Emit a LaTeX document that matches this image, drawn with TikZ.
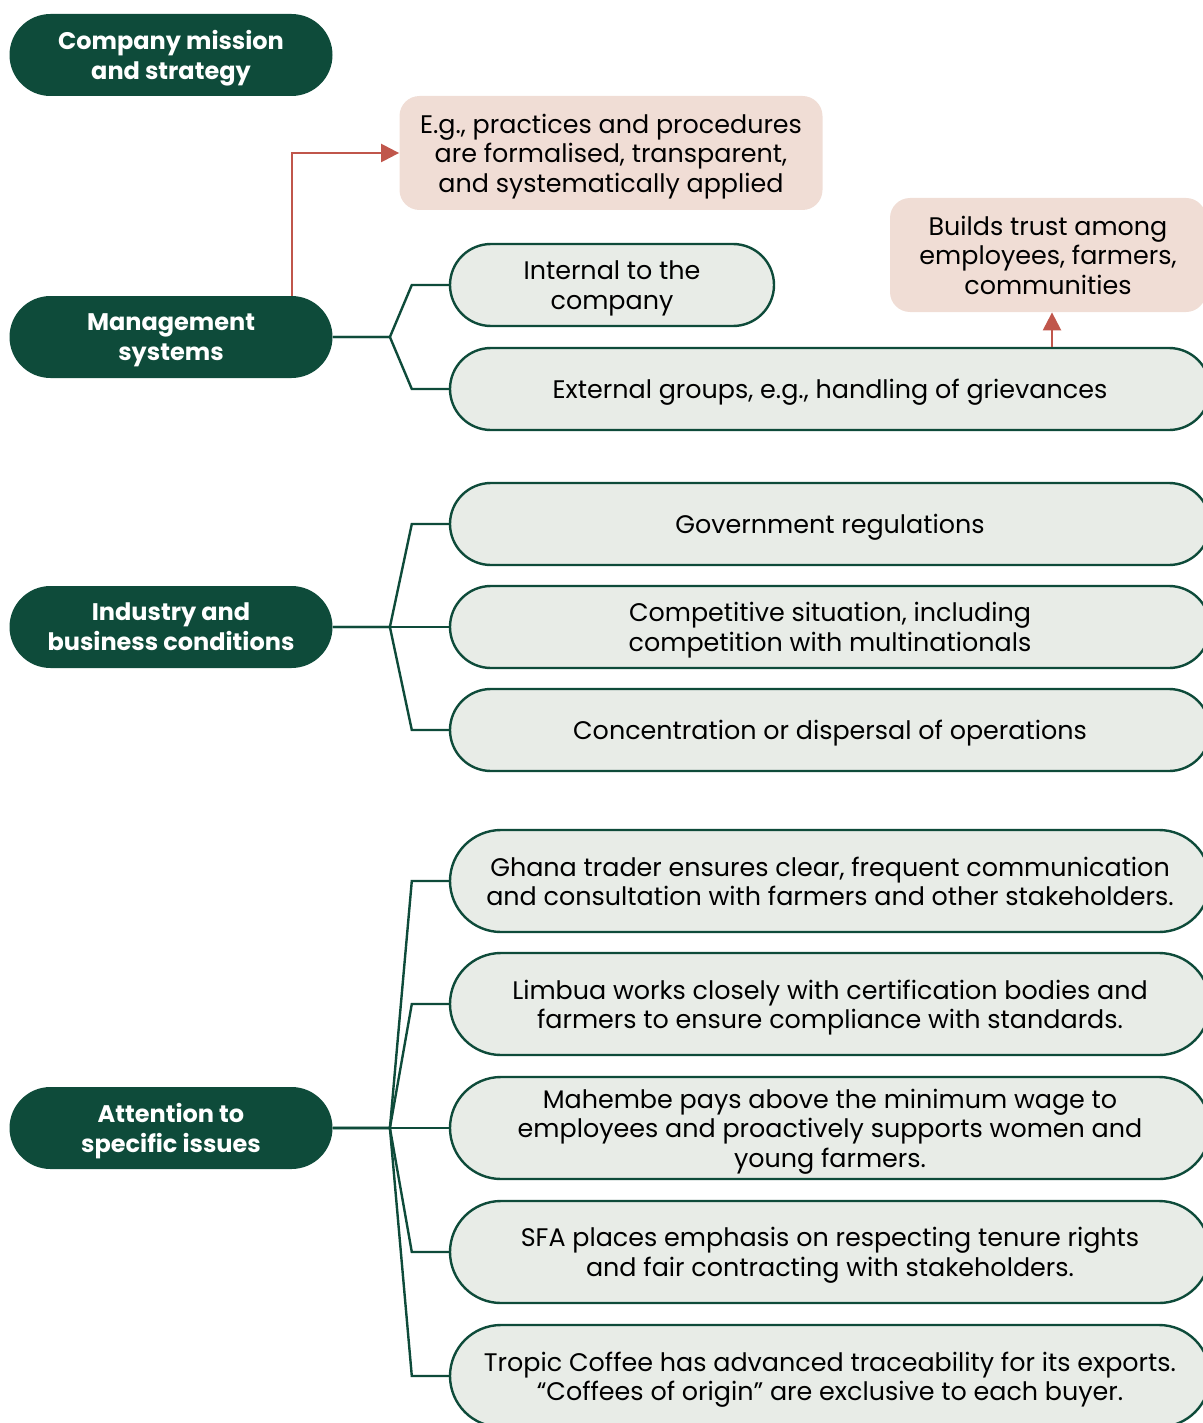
\documentclass[tikz,border=0pt]{standalone}
\usepackage{fontspec}
\setmainfont{Poppins}
\usetikzlibrary{shapes.misc,arrows.meta}

\definecolor{darkgreen}{HTML}{0E4B3A}
\definecolor{palegreen}{HTML}{E8ECE7}
\definecolor{rose}{HTML}{F0DDD5}
\definecolor{brick}{HTML}{C0564B}

\tikzset{
  topic/.style={rounded rectangle, fill=darkgreen, text=white, font=\bfseries\fontsize{12}{15}\selectfont,
    align=center, minimum width=161.5pt, minimum height=41pt, inner sep=0pt, text depth=0pt},
  item/.style={rounded rectangle, draw=darkgreen, line width=1.2pt, fill=palegreen,
    font=\fontsize{12.7}{14.7}\selectfont, align=center, minimum height=41pt, inner sep=0pt, text depth=0pt},
  wide/.style={item, minimum width=380pt},
  tall/.style={wide, minimum height=51pt},
  note/.style={rounded corners=10pt, fill=rose, font=\fontsize{12.7}{14.7}\selectfont,
    align=center, minimum height=57pt, inner sep=0pt, text depth=0pt},
  branch/.style={draw=darkgreen, line width=1.2pt},
  pointer/.style={draw=brick, line width=1.2pt, -{Triangle[length=9pt,width=9pt]}}
}

\begin{document}
\begin{tikzpicture}[x=0.5pt,y=-0.5pt]
\useasboundingbox (0,0) rectangle (1203,1423);
\clip (0,0) rectangle (1203,1423);

% left column
\node[topic] (mission) at (171,55) {Company mission\\and strategy};
\node[topic] (mgmt) at (171,337) {Management\\systems};
\node[topic] (industry) at (171,627) {Industry and\\business conditions};
\node[topic] (issues) at (171,1128) {Attention to\\specific issues};

% notes
\node[note, minimum width=211.5pt] (formal) at (611,153) {E.g., practices and procedures\\are formalised, transparent,\\and systematically applied};
\node[note, minimum width=158pt] (trust) at (1048,255) {Builds trust among\\employees, farmers,\\communities};

% management systems
\node[item, minimum width=162pt] (internal) at (612,285) {Internal to the\\company};
\node[wide] (external) at (830,389) {External groups, e.g., handling of grievances};

% industry and business conditions
\node[wide] (govt) at (830,524) {Government regulations};
\node[wide] (compet) at (830,627) {Competitive situation, including\\competition with multinationals};
\node[wide] (concent) at (830,730) {Concentration or dispersal of operations};

% specific issues
\node[tall] (ghana) at (830,881) {Ghana trader ensures clear, frequent communication\\and consultation with farmers and other stakeholders.};
\node[tall] (limbua) at (830,1004) {Limbua works closely with certification bodies and\\farmers to ensure compliance with standards.};
\node[tall] (mahembe) at (830,1128) {Mahembe pays above the minimum wage to\\employees and proactively supports women and\\young farmers.};
\node[tall] (sfa) at (830,1252) {SFA places emphasis on respecting tenure rights\\and fair contracting with stakeholders.};
\node[tall] (tropic) at (830,1376) {Tropic Coffee has advanced traceability for its exports.\\``Coffees of origin'' are exclusive to each buyer.};

% branches
\foreach \src/\kids in {mgmt/{internal,external}, industry/{govt,compet,concent},
    issues/{ghana,limbua,mahembe,sfa,tropic}} {
  \foreach \kid in \kids
    \draw[branch] (\src.east) -- ++(57,0) -- ([xshift=-18.5pt]\kid.west) -- (\kid.west);
}

% arrows
\draw[pointer] (mgmt.north -| 292,0) |- (formal.west);
\draw[pointer] (external.north -| 1052,0) -- (trust.south -| 1052,0);

\end{tikzpicture}
\end{document}
